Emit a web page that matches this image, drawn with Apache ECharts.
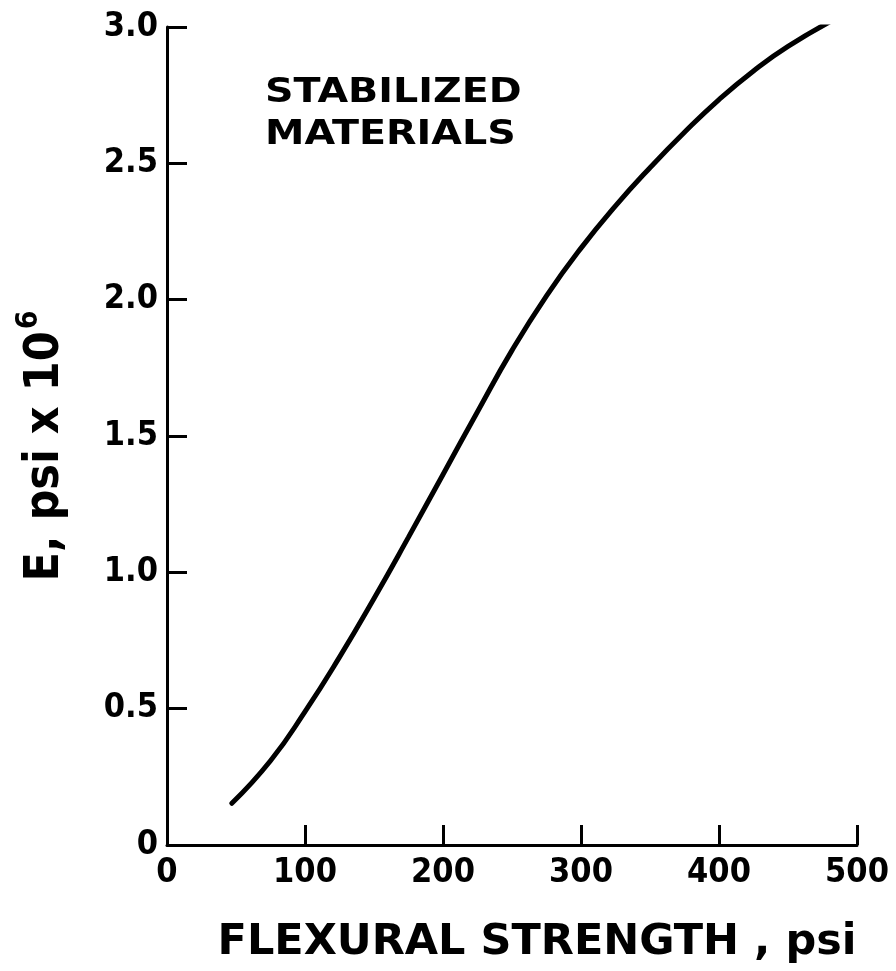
<!DOCTYPE html>
<html>
<head>
<meta charset="utf-8">
<script src="https://cdn.jsdelivr.net/npm/echarts@6/dist/echarts.min.js"></script>
<style>
html,body{margin:0;padding:0;background:#fff;}
#chart{width:896px;height:971px;}
</style>
</head>
<body>
<div id="chart"></div>
<script>
// Data
var flexuralStrength = [47, 75, 100, 125, 150, 175, 200, 225, 250, 275, 300, 325, 350, 375, 400, 425, 450, 485];
var modulusE = [0.153, 0.309, 0.489, 0.689, 0.904, 1.129, 1.359, 1.589, 1.814, 2.014, 2.189, 2.344, 2.484, 2.614, 2.734, 2.839, 2.929, 3.032];
var xTicks = [0, 100, 200, 300, 400, 500];
var yTicks = [0, 0.5, 1.0, 1.5, 2.0, 2.5, 3.0];
var annotationLines = ['STABILIZED', 'MATERIALS'];
var xTitle = 'FLEXURAL STRENGTH , psi';
var yTitle = 'E, psi x 10';
var yTitleSup = '6';

var seriesData = flexuralStrength.map(function (x, i) { return [x, modulusE[i]]; });

var chart = echarts.init(document.getElementById('chart'), null, {renderer: 'canvas'});
var tickFont = "'DejaVu Sans Condensed', 'DejaVu Sans', sans-serif";
var titleFont = "'DejaVu Sans Condensed', 'DejaVu Sans', sans-serif";

chart.setOption({
  animation: false,
  backgroundColor: '#ffffff',
  grid: {left: 167, right: 39, top: 27, bottom: 126, containLabel: false},
  xAxis: {
    type: 'value',
    min: xTicks[0], max: xTicks[xTicks.length - 1], interval: 100,
    name: xTitle,
    nameLocation: 'middle',
    nameGap: 76,
    nameTextStyle: {fontFamily: "'DejaVu Sans', sans-serif", fontWeight: 'bold', fontSize: 43, color: '#000', padding: [0, 0, 0, 50]},
    axisLine: {show: true, onZero: false, lineStyle: {color: '#000', width: 3}},
    axisTick: {show: true, inside: true, length: 20, lineStyle: {color: '#000', width: 3}},
    axisLabel: {fontFamily: tickFont, fontWeight: 'bold', fontSize: 34, color: '#000', margin: 11},
    splitLine: {show: false}
  },
  yAxis: {
    type: 'value',
    min: yTicks[0], max: yTicks[yTicks.length - 1], interval: 0.5,
    name: '{m|' + yTitle + '}{s|' + yTitleSup + '}',
    nameLocation: 'middle',
    nameGap: 97,
    nameRotate: 90,
    nameTextStyle: {
      padding: [0, 20, 0, 0],
      rich: {
        m: {fontFamily: titleFont, fontWeight: 'bold', fontSize: 48, color: '#000', verticalAlign: 'bottom', lineHeight: 56},
        s: {fontFamily: titleFont, fontWeight: 'bold', fontSize: 30, color: '#000', verticalAlign: 'top', lineHeight: 56, padding: [0, 0, 22, 2]}
      }
    },
    axisLine: {show: true, onZero: false, lineStyle: {color: '#000', width: 3}},
    axisTick: {show: true, inside: true, length: 20, lineStyle: {color: '#000', width: 3}},
    axisLabel: {
      fontFamily: tickFont, fontWeight: 'bold', fontSize: 34, color: '#000', margin: 9,
      formatter: function (v) { return v === 0 ? '0' : v.toFixed(1); }
    },
    splitLine: {show: false}
  },
  graphic: [{
    type: 'text',
    x: 265, y: 72,
    scaleX: 1.2,
    style: {
      text: annotationLines.join('\n'),
      font: "bold 33px 'DejaVu Sans', sans-serif",
      lineHeight: 42,
      verticalAlign: 'top',
      align: 'left',
      fill: '#000'
    }
  }],
  series: [{
    type: 'line',
    data: seriesData,
    smooth: 0.5,
    showSymbol: false,
    symbol: 'none',
    lineStyle: {color: '#000', width: 5, cap: 'round'}
  }]
});
</script>
</body>
</html>
